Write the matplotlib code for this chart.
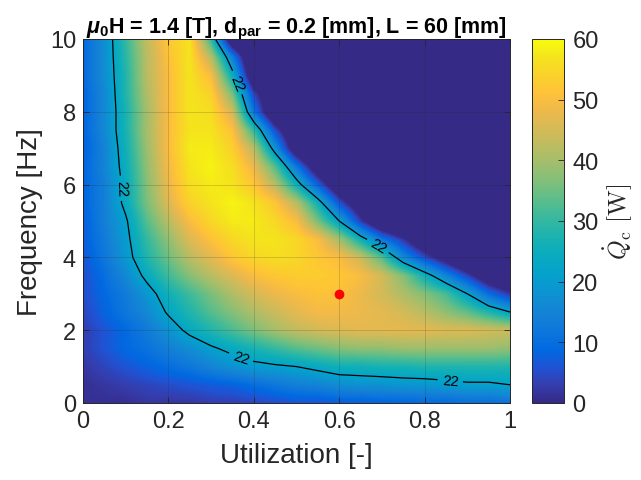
import numpy as np
import matplotlib
matplotlib.use("Agg")
import matplotlib.pyplot as plt
from matplotlib.colors import LinearSegmentedColormap

# ---------------- data ----------------
util = [0.00, 0.05, 0.10, 0.15, 0.20, 0.25, 0.30, 0.35, 0.40, 0.45, 0.50,
        0.55, 0.60, 0.65, 0.70, 0.75, 0.80, 0.85, 0.90, 0.95, 1.00]
freq = [0.0, 0.5, 1.0, 1.5, 2.0, 2.5, 3.0, 3.5, 4.0, 4.5, 5.0,
        5.5, 6.0, 6.5, 7.0, 7.5, 8.0, 8.5, 9.0, 9.5, 10.0]
# cooling power Qc [W], one row per frequency (rows follow freq, columns follow util)
qc = [
    [1, 1, 1, 2, 2, 2, 3, 3, 4, 5, 6, 6, 7, 7, 8, 8, 9, 9, 10, 10, 11],          # 0.0
    [1, 2, 3, 4, 5, 6, 7, 8, 10, 12, 14, 15, 17, 18, 18, 19, 19, 20, 21, 21, 22],  # 0.5
    [2, 4, 6, 8, 10, 12, 15, 18, 20, 21, 22, 24, 26, 26, 27, 27, 28, 28, 28, 28, 28],  # 1.0
    [3, 6, 9, 11, 14, 17, 21, 24, 27, 30, 33, 35, 37, 38, 38, 39, 39, 39, 39, 39, 38],  # 1.5
    [3, 6, 9, 13, 18, 24, 28, 32, 36, 40, 43, 45, 46, 47, 47, 47, 47, 46, 46, 45, 44],  # 2.0
    [4, 8, 12, 16, 23, 28, 33, 37, 41, 44, 47, 49, 49, 48, 47, 45, 42, 38, 34, 28, 22],  # 2.5
    [5, 9, 13, 19, 26, 31, 36, 41, 45, 48, 50, 51, 51, 48, 45, 41, 37, 32, 22, 10, 2],  # 3.0
    [5, 10, 16, 24, 31, 37, 42, 46, 50, 52, 53, 53, 52, 50, 45, 37, 26, 15, 4, -8, -15],  # 3.5
    [6, 12, 19, 28, 35, 42, 47, 52, 55, 56, 55, 52, 50, 44, 33, 16, 5, -5, -15, -20, -20],  # 4.0
    [7, 13, 20, 30, 38, 46, 51, 55, 57, 57, 55, 50, 40, 26, 12, 2, -10, -20, -20, -20, -20],  # 4.5
    [7, 14, 21, 33, 42, 50, 55, 58, 58, 55, 50, 36, 22, 3, -12, -20, -20, -20, -20, -20, -20],  # 5.0
    [8, 14, 24, 36, 46, 54, 57, 59, 57, 52, 42, 26, 6, -8, -20, -20, -20, -20, -20, -20, -20],  # 5.5
    [8, 14, 24, 37, 48, 56, 58, 57, 52, 42, 26, 8, -10, -20, -20, -20, -20, -20, -20, -20, -20],  # 6.0
    [8, 15, 25, 38, 49, 57, 59, 56, 48, 33, 12, -8, -20, -20, -20, -20, -20, -20, -20, -20, -20],  # 6.5
    [7, 15, 26, 39, 50, 58, 58, 54, 42, 18, -8, -20, -20, -20, -20, -20, -20, -20, -20, -20, -20],  # 7.0
    [8, 16, 27, 40, 50, 57, 57, 51, 30, 5, -12, -20, -20, -20, -20, -20, -20, -20, -20, -20, -20],  # 7.5
    [8, 16, 27, 40, 50, 57, 56, 45, 12, -12, -20, -20, -20, -20, -20, -20, -20, -20, -20, -20, -20],  # 8.0
    [8, 16, 28, 41, 50, 57, 54, 36, 4, -12, -20, -20, -20, -20, -20, -20, -20, -20, -20, -20, -20],  # 8.5
    [9, 17, 28, 42, 50, 57, 50, 25, -10, -20, -20, -20, -20, -20, -20, -20, -20, -20, -20, -20, -20],  # 9.0
    [9, 17, 29, 42, 51, 57, 42, 14, -15, -20, -20, -20, -20, -20, -20, -20, -20, -20, -20, -20, -20],  # 9.5
    [9, 17, 30, 43, 52, 57, 30, -10, -20, -20, -20, -20, -20, -20, -20, -20, -20, -20, -20, -20, -20],  # 10.0
]
contour_level = [22]
op_util = [0.6]
op_freq = [3.0]
x_ticks = [0, 0.2, 0.4, 0.6, 0.8, 1.0]
x_ticklabels = ["0", "0.2", "0.4", "0.6", "0.8", "1"]
y_ticks = [0, 2, 4, 6, 8, 10]
cb_ticks = [0, 10, 20, 30, 40, 50, 60]

# ---------------- style ----------------
parula_colors = [
    (0.2081, 0.1663, 0.5292), (0.2081, 0.2386, 0.6771), (0.1253, 0.3242, 0.8303),
    (0.0060, 0.4086, 0.8828), (0.0498, 0.4586, 0.8641), (0.0779, 0.5040, 0.8384),
    (0.0641, 0.5570, 0.8240), (0.0265, 0.6137, 0.8135), (0.0228, 0.6535, 0.7768),
    (0.0590, 0.6838, 0.7254), (0.1453, 0.7098, 0.6646), (0.2586, 0.7317, 0.5954),
    (0.3953, 0.7459, 0.5244), (0.5300, 0.7491, 0.4661), (0.6473, 0.7456, 0.4188),
    (0.7525, 0.7384, 0.3768), (0.8507, 0.7299, 0.3360), (0.9450, 0.7261, 0.2886),
    (0.9990, 0.7653, 0.2164), (0.9789, 0.8271, 0.1633), (0.9589, 0.8949, 0.1132),
    (0.9763, 0.9831, 0.0538)]
parula = LinearSegmentedColormap.from_list("parula", parula_colors, N=256)

plt.rcParams['font.family'] = ['Liberation Sans', 'DejaVu Sans']
plt.rcParams['mathtext.fontset'] = 'custom'
plt.rcParams['mathtext.rm'] = 'Liberation Sans'
plt.rcParams['mathtext.it'] = 'Liberation Sans:italic:bold'
plt.rcParams['mathtext.bf'] = 'Liberation Sans:bold'

dark = (0.15, 0.15, 0.15)

W, H = 641, 481
fig = plt.figure(figsize=(W / 100, H / 100), dpi=100)
ax = fig.add_axes([83 / W, 1 - 404 / H, 427 / W, 364 / H])
cax = fig.add_axes([532 / W, 1 - 404 / H, 32 / W, 364 / H])

Q = np.array(qc, dtype=float)
du = util[1] - util[0]
df = freq[1] - freq[0]
im = ax.imshow(Q, origin='lower', aspect='auto', cmap=parula, vmin=0, vmax=60,
               extent=[util[0] - du / 2, util[-1] + du / 2, freq[0] - df / 2, freq[-1] + df / 2],
               interpolation='bilinear', interpolation_stage='data', zorder=0)

cs = ax.contour(util, freq, Q, levels=contour_level, colors='k', linewidths=0.9, zorder=2)
ax.clabel(cs, fmt='%d', fontsize=10.5, inline=True, inline_spacing=4,
          manual=[(0.09, 5.9), (0.34, 8.7), (0.69, 4.3), (0.37, 1.25), (0.86, 0.6)])

ax.plot(op_util, op_freq, 'o', color='red', markersize=6, zorder=4)

ax.set_xlim(0, 1)
ax.set_ylim(0, 10)
ax.set_xticks(x_ticks)
ax.set_xticklabels(x_ticklabels)
ax.set_yticks(y_ticks)
ax.tick_params(direction='in', length=4, width=0.6, colors=dark, labelsize=17,
               top=True, right=True, pad=5)
for s in ax.spines.values():
    s.set_color(dark)
    s.set_linewidth(0.7)
ax.grid(True, color=dark, alpha=0.18, linewidth=0.7)
ax.set_axisbelow(False)

ax.set_xlabel('Utilization [-]', fontsize=20, color=dark, labelpad=7)
ax.set_ylabel('Frequency [Hz]', fontsize=20, color=dark, labelpad=5)
ax.set_title(r'$\mu_\mathbf{0}$H = 1.4 [T], d$_\mathbf{par}$ = 0.2 [mm], L = 60 [mm]',
             fontsize=15.5, fontweight='bold', color='black', pad=5)

cb = fig.colorbar(im, cax=cax, ticks=cb_ticks)
cb.outline.set_edgecolor(dark)
cb.outline.set_linewidth(0.7)
cax.tick_params(direction='in', length=4, width=0.6, colors=dark, labelsize=17, pad=6)
cb.set_label(r'$\dot{Q}_\mathrm{c}\ \mathrm{[W]}$', fontsize=18, math_fontfamily='cm',
             color=dark, labelpad=2)

fig.savefig('out.png', dpi=100)
